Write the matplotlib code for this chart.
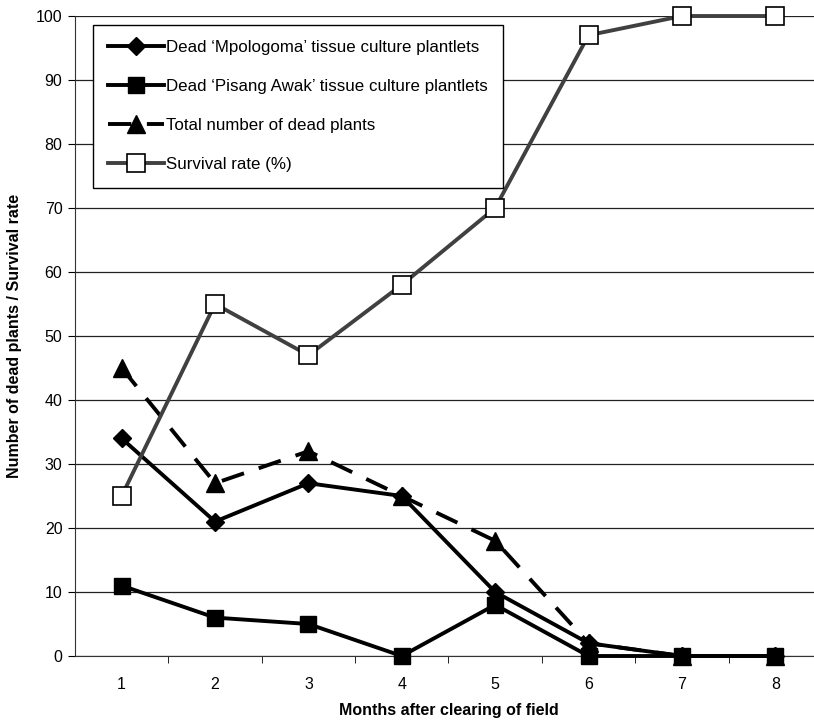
import numpy as np
import matplotlib.pyplot as plt

plt.rcParams['font.family'] = ['Liberation Sans', 'DejaVu Sans']

months = [1, 2, 3, 4, 5, 6, 7, 8]
dead_mpologoma = [34, 21, 27, 25, 10, 2, 0, 0]
dead_pisang = [11, 6, 5, 0, 8, 0, 0, 0]
dead_total = [45, 27, 32, 25, 18, 2, 0, 0]
survival = [25, 55, 47, 58, 70, 97, 100, 100]

labels = ["Dead \u2018Mpologoma\u2019 tissue culture plantlets",
          "Dead \u2018Pisang Awak\u2019 tissue culture plantlets",
          "Total number of dead plants",
          "Survival rate (%)"]

fig = plt.figure(figsize=(8.14, 7.22), dpi=100)
ax = fig.add_axes([0.0921, 0.0914, 0.9177, 0.8864])

ax.plot(months, dead_mpologoma, color='black', lw=2.8, marker='D', ms=9,
        label=labels[0], zorder=4, clip_on=False)
ax.plot(months, dead_pisang, color='black', lw=2.8, marker='s', ms=11,
        label=labels[1], zorder=4, clip_on=False)
ax.plot(months, dead_total, color='black', lw=2.8, marker='^', ms=13,
        dashes=(6, 4), label=labels[2], zorder=3, clip_on=False)
ax.plot(months, survival, color='#404040', lw=2.8, marker='s', ms=12.5,
        mfc='white', mec='black', mew=1.2, label=labels[3], zorder=5, clip_on=False)

ax.set_xlim(0.5, 8.5)
ax.set_ylim(0, 100)
ax.set_yticks(np.arange(0, 101, 10))
ax.set_xticks(months)
ax.set_xticks(np.arange(1.5, 8.5, 1), minor=True)
ax.tick_params(axis='x', which='major', length=0, pad=15, labelsize=11.5)
ax.tick_params(axis='x', which='minor', length=5, direction='out')
ax.tick_params(axis='y', length=5, direction='out', labelsize=11.5, pad=4)
ax.yaxis.grid(True, color='#222222', lw=0.9)
ax.set_axisbelow(True)
for s in ['top', 'right']:
    ax.spines[s].set_visible(False)
ax.spines['left'].set_color('#333333')
ax.spines['bottom'].set_color('#333333')

ax.set_xlabel("Months after clearing of field", fontsize=11.5, fontweight='bold', labelpad=8)
ax.set_ylabel("Number of dead plants / Survival rate", fontsize=11.5, fontweight='bold', labelpad=10)

leg = ax.legend(loc='upper left', bbox_to_anchor=(0.024, 0.986), fontsize=12.2,
                frameon=True, fancybox=False, edgecolor='black', framealpha=1,
                handlelength=3.3, handletextpad=0.1, labelspacing=1.42,
                borderpad=0.9, borderaxespad=0)
leg.get_frame().set_linewidth(1.0)

fig.savefig("out.png", dpi=100)
